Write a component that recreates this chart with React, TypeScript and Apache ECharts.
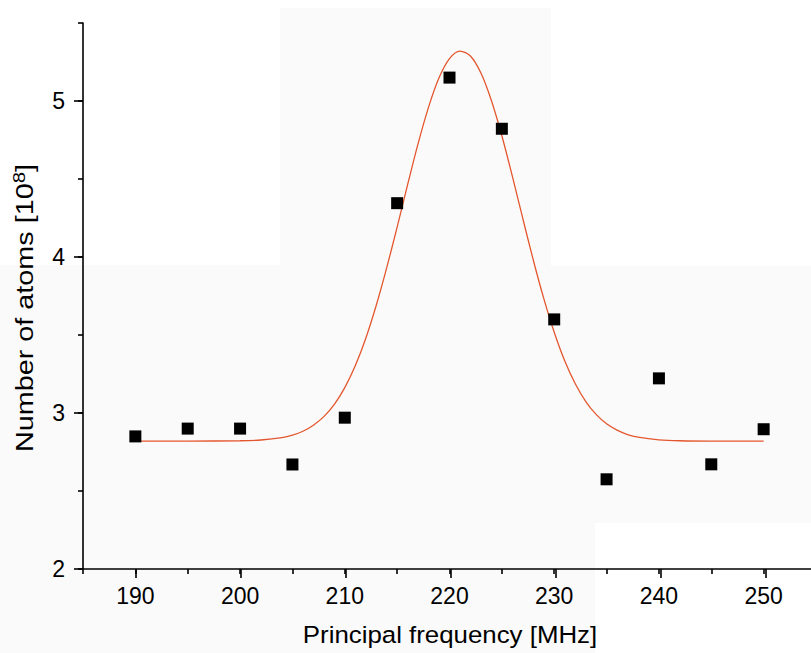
import React, { useEffect, useRef } from "react";
import * as echarts from "echarts";

// Measured points
const freqMHz = [190, 195, 200, 205, 210, 215, 220, 225, 230, 235, 240, 245, 250];
const atoms = [2.85, 2.9, 2.9, 2.67, 2.97, 4.345, 5.15, 4.822, 3.6, 2.575, 3.222, 2.671, 2.896];

// Fitted curve
const fitFreq = [190, 195, 200, 202, 204, 205, 206, 207, 208, 209, 210, 211, 212, 213, 214, 215, 216, 217, 218, 219, 220, 221, 222, 223, 224, 225, 226, 227, 228, 229, 230, 231, 232, 233, 234, 235, 236, 237, 238, 240, 242, 245, 250];
const fitAtoms = [2.82, 2.82, 2.822, 2.827, 2.842, 2.858, 2.883, 2.922, 2.977, 3.056, 3.163, 3.303, 3.478, 3.689, 3.93, 4.192, 4.464, 4.727, 4.961, 5.149, 5.272, 5.32, 5.288, 5.179, 5.003, 4.777, 4.518, 4.247, 3.981, 3.735, 3.518, 3.335, 3.189, 3.075, 2.991, 2.931, 2.89, 2.862, 2.845, 2.828, 2.822, 2.82, 2.82];

const xMajorTicks = [190, 200, 210, 220, 230, 240, 250];
const yMajorTicks = [2, 3, 4, 5];

const FONT = "'Liberation Sans', Arial, Helvetica, sans-serif";

export default function App() {
  const ref = useRef<HTMLDivElement>(null);
  useEffect(() => {
    if (!ref.current) return;
    const chart = echarts.init(ref.current, null, { renderer: "svg" });
    const axisLine = { show: true, lineStyle: { color: "#000", width: 1.6 } };
    const hiddenAxis = { show: false };
    const option: any = {
      animation: false,
      backgroundColor: "#fafafa",
      graphic: [
        { type: "rect", z: -10, shape: { x: 0, y: 0, width: 819, height: 8 }, style: { fill: "#ffffff" } },
        { type: "rect", z: -10, shape: { x: 0, y: 0, width: 280, height: 265 }, style: { fill: "#ffffff" } },
        { type: "rect", z: -10, shape: { x: 551, y: 0, width: 268, height: 266 }, style: { fill: "#ffffff" } },
        { type: "rect", z: -10, shape: { x: 595, y: 523, width: 224, height: 130 }, style: { fill: "#ffffff" } },
        {
          type: "text",
          x: 25,
          y: 308,
          rotation: Math.PI / 2,
          scaleX: 1.2,
          style: {
            text: "Number of atoms [10{sup|8}]",
            fill: "#000",
            font: `24px ${FONT}`,
            align: "center",
            verticalAlign: "middle",
            rich: {
              sup: { fontSize: 17, fontFamily: "Liberation Sans", verticalAlign: "top", padding: [0, 0, 12, 0] },
            },
          },
        },
        {
          type: "text",
          x: 450,
          y: 635,
          scaleX: 1.1,
          style: {
            text: "Principal frequency [MHz]",
            fill: "#000",
            font: `23.5px ${FONT}`,
            align: "center",
            verticalAlign: "middle",
          },
        },
      ],
      grid: [
        { left: 83, right: 0.5, top: 23, bottom: 84 },
        { left: 83, right: 0.5, top: 101, bottom: 84 },
        { left: 135.7, right: 53, top: 23, bottom: 84 },
      ],
      xAxis: [
        {
          gridIndex: 0,
          type: "value",
          min: 185,
          max: 255,
          interval: 5,
          axisLine,
          axisTick: { show: true, length: 5, lineStyle: { color: "#000", width: 1.6 } },
          splitLine: { show: false },
          axisLabel: {
            margin: 15,
            color: "#000",
            fontSize: 23,
            fontFamily: FONT,
            formatter: (v: number) => (xMajorTicks.includes(v) ? String(v) : ""),
          },
        },
        { gridIndex: 1, type: "value", min: 185, max: 255, ...hiddenAxis },
        {
          gridIndex: 2,
          type: "value",
          min: 190,
          max: 250,
          interval: 10,
          axisLine: { show: false },
          axisTick: { show: true, length: 9, lineStyle: { color: "#000", width: 1.6 } },
          axisLabel: { show: false },
          splitLine: { show: false },
        },
      ],
      yAxis: [
        {
          gridIndex: 0,
          type: "value",
          min: 2,
          max: 5.5,
          interval: 0.5,
          axisLine,
          axisTick: { show: true, length: 5, lineStyle: { color: "#000", width: 1.6 } },
          splitLine: { show: false },
          axisLabel: {
            margin: 18,
            color: "#000",
            fontSize: 23,
            fontFamily: FONT,
            formatter: (v: number) => (yMajorTicks.includes(v) ? String(v) : ""),
          },
        },
        {
          gridIndex: 1,
          type: "value",
          min: 2,
          max: 5,
          interval: 1,
          axisLine: { show: false },
          axisTick: { show: true, length: 9, lineStyle: { color: "#000", width: 1.6 } },
          axisLabel: { show: false },
          splitLine: { show: false },
        },
        { gridIndex: 2, type: "value", min: 2, max: 5.5, ...hiddenAxis },
      ],
      series: [
        {
          type: "line",
          xAxisIndex: 0,
          yAxisIndex: 0,
          data: fitFreq.map((f, i) => [f, fitAtoms[i]]),
          smooth: 0.3,
          showSymbol: false,
          lineStyle: { color: "#e4572e", width: 1.3 },
          z: 2,
        },
        {
          type: "scatter",
          xAxisIndex: 0,
          yAxisIndex: 0,
          data: freqMHz.map((f, i) => [f, atoms[i]]),
          symbol: "rect",
          symbolSize: 12,
          itemStyle: { color: "#000", opacity: 1 },
          z: 3,
        },
      ],
    };
    chart.setOption(option);
    return () => chart.dispose();
  }, []);
  return (
    <div style={{ position: "fixed", left: 0, top: 0, width: 811, height: 653, overflow: "hidden" }}>
      <div ref={ref} style={{ width: 819, height: 653 }} />
    </div>
  );
}
